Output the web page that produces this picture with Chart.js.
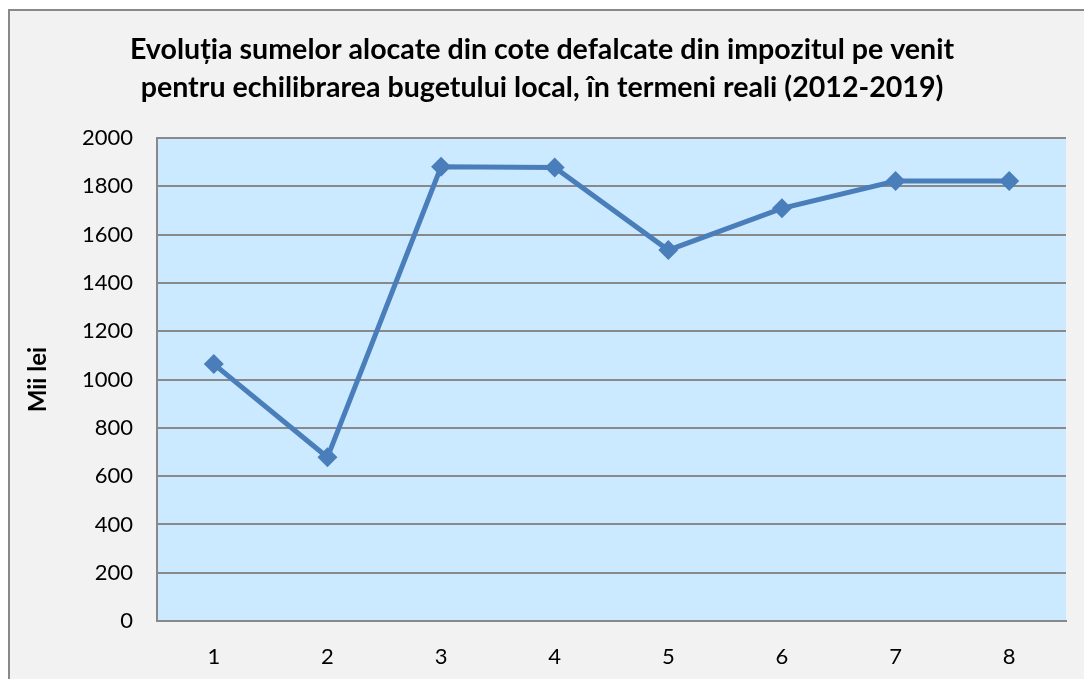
<!DOCTYPE html>
<html>
<head>
<meta charset="utf-8">
<script src="https://cdn.jsdelivr.net/npm/chart.js@4"></script>
<style>
  html, body { margin: 0; padding: 0; background: #fff; }
  #wrap { position: absolute; left: 0; top: 0; width: 1084px; height: 679px; }
</style>
</head>
<body>
<div id="wrap"><canvas id="chart"></canvas></div>
<script>
const categories = ["1", "2", "3", "4", "5", "6", "7", "8"];
const values = [1064, 678, 1881, 1878, 1536, 1709, 1822, 1822];
const titleLines = [
    "Evoluția sumelor alocate din cote defalcate din impozitul pe venit",
    "pentru echilibrarea bugetului local, în termeni reali (2012-2019)"
];
const yAxisTitle = "Mii lei";

const FONT = "Lato, 'Open Sans', sans-serif";

// frame + plot background
const backdrop = {
    id: "backdrop",
    beforeDraw(chart) {
        const ctx = chart.ctx;
        const area = chart.chartArea;
        ctx.save();
        ctx.fillStyle = "#ffffff";
        ctx.fillRect(0, 0, chart.width, chart.height);
        ctx.fillStyle = "#f2f2f2";
        ctx.fillRect(8, 9, chart.width, chart.height);
        ctx.fillStyle = "#898989";
        ctx.fillRect(8, 9, chart.width, 2);
        ctx.fillRect(8, 9, 2, chart.height);
        ctx.fillStyle = "#cceaff";
        ctx.fillRect(area.left, area.top, area.right - area.left, area.bottom - area.top);
        ctx.restore();
    }
};

const ctx = document.getElementById("chart");
new Chart(ctx, {
    type: "line",
    data: {
        labels: categories,
        datasets: [{
            data: values,
            borderColor: "#4a7ebb",
            backgroundColor: "#4a7ebb",
            borderWidth: 5,
            tension: 0,
            pointStyle: "rectRot",
            pointRadius: 10,
            pointBorderWidth: 0,
            pointBackgroundColor: "#4a7ebb"
        }]
    },
    options: {
        responsive: true,
        maintainAspectRatio: false,
        animation: false,
        layout: { padding: { left: 18, right: 18, top: 0, bottom: 0 } },
        plugins: {
            legend: { display: false },
            tooltip: { enabled: false },
            title: {
                display: true,
                text: titleLines,
                color: "#000",
                font: { family: FONT, size: 28.6, weight: "bold", lineHeight: 1.33 },
                padding: { top: 31, bottom: 31 }
            }
        },
        scales: {
            x: {
                type: "category",
                offset: true,
                grid: { display: false, drawTicks: false },
                border: { display: true, color: "#898989", width: 2 },
                ticks: { color: "#000", font: { family: FONT, size: 22 }, padding: 23 },
                afterFit(scale) { scale.height = 58; }
            },
            y: {
                min: 0,
                max: 2000,
                ticks: {
                    stepSize: 200,
                    color: "#000",
                    font: { family: FONT, size: 22 },
                    padding: 24,
                    callback: (v) => String(v)
                },
                grid: { color: "#898989", lineWidth: 2, drawTicks: false },
                border: { display: true, color: "#898989", width: 2 },
                title: {
                    display: true,
                    text: yAxisTitle,
                    color: "#000",
                    font: { family: FONT, size: 24, weight: "bold" },
                    padding: { top: 6, bottom: 0 }
                },
                afterFit(scale) { scale.width = 139; }
            }
        }
    },
    plugins: [backdrop]
});
</script>
</body>
</html>
